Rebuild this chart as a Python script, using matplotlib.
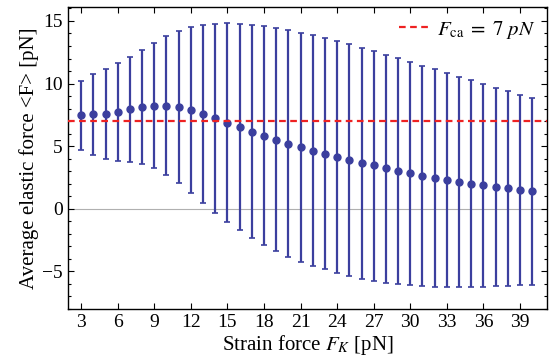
import matplotlib
matplotlib.use("Agg")
import matplotlib.pyplot as plt
from matplotlib.ticker import MultipleLocator

plt.rcParams['font.family'] = ['Liberation Serif', 'DejaVu Serif']
plt.rcParams['mathtext.fontset'] = 'stix'

strain_force = list(range(3, 41))
mean_force = [7.45, 7.53, 7.58, 7.71, 7.95, 8.14, 8.24, 8.24, 8.14, 7.90,
              7.58, 7.23, 6.86, 6.54, 6.17, 5.85, 5.53, 5.21, 4.95, 4.65,
              4.39, 4.15, 3.91, 3.67, 3.46, 3.22, 3.01, 2.82, 2.63, 2.45,
              2.29, 2.13, 1.99, 1.86, 1.73, 1.62, 1.52, 1.38]
upper_force = [10.24, 10.77, 11.20, 11.65, 12.13, 12.69, 13.24, 13.78, 14.18, 14.49,
               14.71, 14.79, 14.81, 14.76, 14.71, 14.60, 14.41, 14.26, 14.04, 13.88,
               13.62, 13.38, 13.14, 12.87, 12.58, 12.31, 12.02, 11.73, 11.44, 11.14,
               10.88, 10.56, 10.27, 9.97, 9.68, 9.41, 9.12, 8.83]
lower_force = [4.68, 4.28, 3.94, 3.78, 3.72, 3.56, 3.24, 2.71, 2.05, 1.25,
               0.48, -0.32, -1.04, -1.70, -2.34, -2.90, -3.38, -3.83, -4.23, -4.57,
               -4.84, -5.13, -5.37, -5.59, -5.80, -5.93, -6.04, -6.12, -6.14, -6.22,
               -6.25, -6.28, -6.25, -6.22, -6.20, -6.14, -6.12, -6.06]
f_ca = 7
x_ticks = list(range(3, 40, 3))
y_ticks = [-5, 0, 5, 10, 15]

yerr = [[m - lo for m, lo in zip(mean_force, lower_force)],
        [hi - m for m, hi in zip(mean_force, upper_force)]]

fig = plt.figure(figsize=(5.49, 3.6), dpi=100)
ax = fig.add_axes([0.124, 0.142, 0.872, 0.838])

ax.axhline(0, color='#b0b0b0', lw=0.8, zorder=1)
ax.errorbar(strain_force, mean_force, yerr=yerr, fmt='o', color='#3b3f9e',
            ms=5, elinewidth=1.6, capsize=2, capthick=1.2, zorder=3)
ax.axhline(f_ca, color='#ee2222', lw=1.6, ls=(0, (3, 2)), zorder=4,
           label=r'$F_{\rm ca}\;=\;7\ pN$')

ax.set_xlim(1.93, 41.2)
ax.set_ylim(-8, 16.1)
ax.set_xticks(x_ticks)
ax.set_yticks(y_ticks)
ax.yaxis.set_minor_locator(MultipleLocator(1))
ax.tick_params(direction='in', top=True, right=True, labelsize=14, length=4, width=0.8, pad=4)
ax.tick_params(which='minor', direction='in', right=True, length=2.5, width=0.8)
for s in ax.spines.values():
    s.set_linewidth(1.0)

ax.set_xlabel(r'Strain force $F_K$ [pN]', fontsize=15, labelpad=1)
ax.set_ylabel('Average elastic force <F> [pN]', fontsize=15, labelpad=2)

leg = ax.legend(loc='upper right', frameon=False, fontsize=15, handlelength=1.5,
                handletextpad=0.3, borderaxespad=0.15)

fig.savefig('out.png', dpi=100)
